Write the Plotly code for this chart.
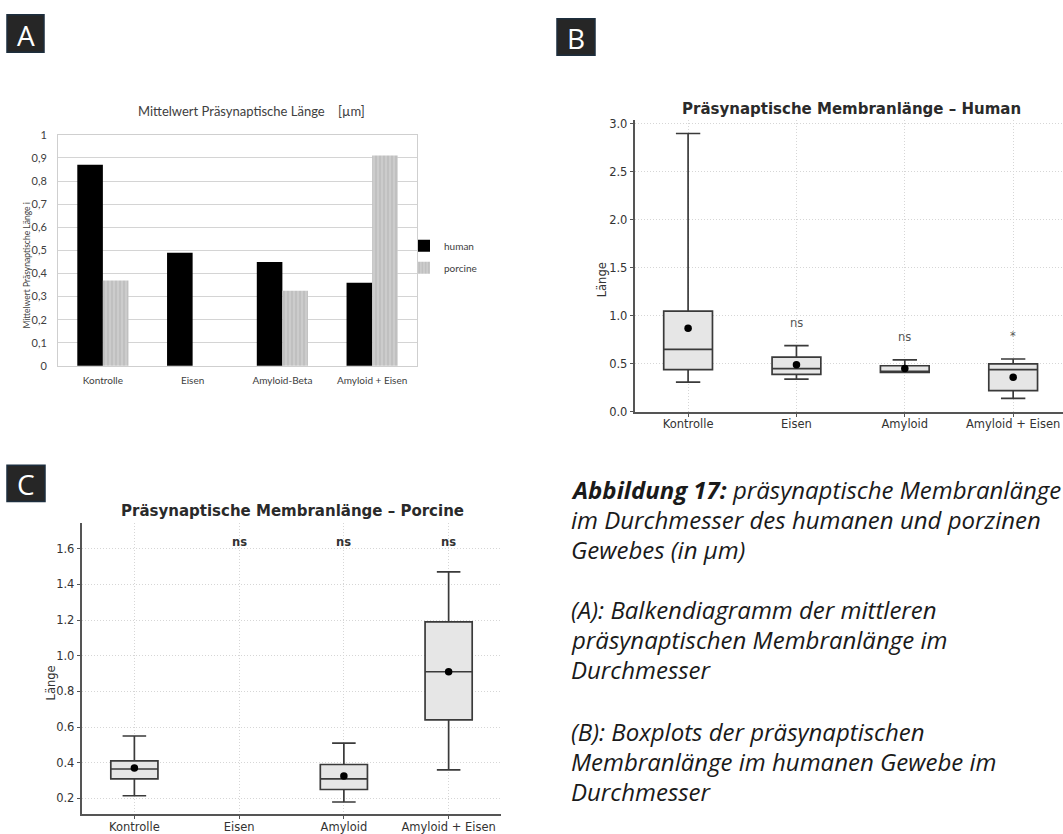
import plotly.graph_objects as go

W, H = 1063, 834


def px(x):
    return x / W


def py(y):
    return 1 - y / H


# ---------------- Panel A: mean presynaptic length (bars) ----------------
bar_categories = ["Kontrolle", "Eisen", "Amyloid-Beta", "Amyloid + Eisen"]
mean_human = [0.87, 0.49, 0.45, 0.36]
mean_porcine = [0.37, None, 0.325, 0.91]
a_tick_vals = [0, 0.1, 0.2, 0.3, 0.4, 0.5, 0.6, 0.7, 0.8, 0.9, 1]
a_tick_text = ["0", "0,1", "0,2", "0,3", "0,4", "0,5", "0,6", "0,7", "0,8", "0,9", "1"]

# ---------------- Panel B: human box plots ----------------
box_categories = ["Kontrolle", "Eisen", "Amyloid", "Amyloid + Eisen"]
human_lower = [0.31, 0.34, 0.41, 0.14]
human_q1 = [0.44, 0.39, 0.41, 0.22]
human_median = [0.65, 0.45, 0.41, 0.44]
human_q3 = [1.05, 0.57, 0.48, 0.50]
human_upper = [2.90, 0.69, 0.54, 0.55]
human_mean = [0.87, 0.49, 0.45, 0.36]
human_sig = ["", "ns", "ns", "*"]

# ---------------- Panel C: porcine box plots ----------------
porcine_lower = [0.215, None, 0.18, 0.36]
porcine_q1 = [0.31, None, 0.25, 0.64]
porcine_median = [0.365, None, 0.31, 0.91]
porcine_q3 = [0.41, None, 0.39, 1.19]
porcine_upper = [0.55, None, 0.51, 1.47]
porcine_mean = [0.37, None, 0.325, 0.91]
porcine_sig = ["", "ns", "ns", "ns"]

MPL_FONT = "DejaVu Sans"
OFFICE_FONT = "Lato"
CAPTION_FONT = "Open Sans"
BOX_LINE = "#3a3a3a"
BOX_FILL = "#e6e6e6"

fig = go.Figure()

# bars
fig.add_trace(go.Bar(
    x=bar_categories, y=mean_human, name="human",
    marker=dict(color="#000000", line=dict(width=0)),
    xaxis="x", yaxis="y", legendgroup="h",
))
fig.add_trace(go.Bar(
    x=bar_categories, y=mean_porcine, name="porcine",
    marker=dict(color="#cccccc", line=dict(width=0),
                pattern=dict(shape="|", fgcolor="#a9a9a9", size=4, solidity=0.35)),
    xaxis="x", yaxis="y", legendgroup="p",
))


def add_boxes(xa, ya, lower, q1, median, q3, upper, mean):
    keep = [i for i, m in enumerate(median) if m is not None]
    cats = [box_categories[i] for i in keep]
    fig.add_trace(go.Box(
        x=cats,
        lowerfence=[lower[i] for i in keep],
        q1=[q1[i] for i in keep],
        median=[median[i] for i in keep],
        q3=[q3[i] for i in keep],
        upperfence=[upper[i] for i in keep],
        width=0.45, whiskerwidth=0.5,
        fillcolor=BOX_FILL, line=dict(color=BOX_LINE, width=1.7),
        boxpoints=False, showlegend=False, hoverinfo="skip",
        xaxis=xa, yaxis=ya,
    ))
    fig.add_trace(go.Scatter(
        x=cats, y=[mean[i] for i in keep], mode="markers",
        marker=dict(color="#000000", size=7.5),
        showlegend=False, xaxis=xa, yaxis=ya, cliponaxis=False,
    ))


add_boxes("x2", "y2", human_lower, human_q1, human_median, human_q3, human_upper, human_mean)
add_boxes("x3", "y3", porcine_lower, porcine_q1, porcine_median, porcine_q3, porcine_upper, porcine_mean)

annotations = []
shapes = []

# significance labels
for cat, sig, up in zip(box_categories, human_sig, human_upper):
    if sig:
        annotations.append(dict(
            x=cat, y=up + 0.24, xref="x2", yref="y2", text=sig, showarrow=False,
            font=dict(family=MPL_FONT, size=11.5, color="#555555"),
            xanchor="center", yanchor="middle"))
for cat, sig in zip(box_categories, porcine_sig):
    if sig:
        annotations.append(dict(
            x=cat, y=1.64, xref="x3", yref="y3", text="<b>%s</b>" % sig, showarrow=False,
            font=dict(family=MPL_FONT, size=11.5, color="#333333"),
            xanchor="center", yanchor="middle"))

# panel letters
for letter, (x0, y0, x1, y1) in {"A": (7, 8, 44, 46), "B": (557, 12, 595, 49),
                                  "C": (7, 466, 45, 503)}.items():
    shapes.append(dict(type="rect", xref="paper", yref="paper",
                       x0=px(x0), x1=px(x1), y0=py(y1), y1=py(y0),
                       fillcolor="#262626", line=dict(color="#1d2e3e", width=1.5)))
    annotations.append(dict(x=px((x0 + x1) / 2), y=py((y0 + y1) / 2 + 1), xref="paper", yref="paper",
                            text=letter, showarrow=False,
                            font=dict(family="Open Sans", size=28, color="#ffffff"),
                            xanchor="center", yanchor="middle"))


def label(x, y, text, font, angle=0):
    return dict(x=px(x), y=py(y), xref="paper", yref="paper", showarrow=False,
                text=text, font=font, textangle=angle,
                xanchor="center", yanchor="middle")


# titles and axis labels
annotations += [
    label(251, 106, "Mittelwert Präsynaptische Länge    [µm]",
          dict(family=OFFICE_FONT, size=13, color="#404040")),
    label(27, 263, "Mittelwert Präsynaptische Länge i",
          dict(family=OFFICE_FONT, size=8.5, color="#404040"), -90),
    label(851, 104, "<b>Präsynaptische Membranlänge – Human</b>",
          dict(family=MPL_FONT, size=15, color="#2a2a2a")),
    label(602, 278, "Länge", dict(family=MPL_FONT, size=11.5, color="#333333"), -90),
    label(292, 513, "<b>Präsynaptische Membranlänge – Porcine</b>",
          dict(family=MPL_FONT, size=15, color="#2a2a2a")),
    label(51, 688, "Länge", dict(family=MPL_FONT, size=11.5, color="#333333"), -90),
]

# figure caption
caption_lines = [
    (491, "<b>Abbildung 17:</b> präsynaptische Membranlänge"),
    (521, "im Durchmesser des humanen und porzinen"),
    (551.5, "Gewebes (in µm)"),
    (613, "(A): Balkendiagramm der mittleren"),
    (643, "präsynaptischen Membranlänge im"),
    (674, "Durchmesser"),
    (737, "(B): Boxplots der präsynaptischen"),
    (767, "Membranlänge im humanen Gewebe im"),
    (798, "Durchmesser"),
]
for yy, line in caption_lines:
    annotations.append(dict(x=px(569), y=py(yy), xref="paper", yref="paper", showarrow=False,
                            text="<i>%s</i>" % line, xanchor="left", yanchor="middle",
                            font=dict(family=CAPTION_FONT, size=24, color="#1a1a1a")))

mpl_axis = dict(showline=True, linecolor="#555555", linewidth=1.5, ticks="outside",
                ticklen=3.5, tickwidth=1, tickcolor="#555555", showgrid=True,
                gridcolor="#d6d6d6", griddash="1px,2px", gridwidth=1, zeroline=False,
                tickfont=dict(family=MPL_FONT, size=11.5, color="#333333"))

fig.update_layout(
    width=W, height=H,
    margin=dict(l=0, r=0, t=0, b=0),
    paper_bgcolor="#ffffff", plot_bgcolor="#ffffff",
    barmode="group", bargap=0.43, bargroupgap=0,
    showlegend=True,
    legend=dict(x=px(404), y=py(228), xanchor="left", yanchor="top",
                font=dict(family=OFFICE_FONT, size=10, color="#404040"),
                bgcolor="rgba(0,0,0,0)", itemwidth=30, tracegroupgap=3,
                itemclick=False),
    xaxis=dict(domain=[px(58), px(417)], anchor="y", showline=True, mirror=True,
               linecolor="#cfcfcf", linewidth=1, ticks="", showgrid=False,
               ticklabelstandoff=5,
               tickfont=dict(family=OFFICE_FONT, size=10, color="#404040")),
    yaxis=dict(domain=[py(365), py(130)], anchor="x", range=[0, 1],
               tickvals=a_tick_vals, ticktext=a_tick_text, showgrid=True,
               gridcolor="#d4d4d4", gridwidth=1, zeroline=False, showline=True,
               mirror=True, linecolor="#cfcfcf", linewidth=1, ticks="",
               ticklabelstandoff=8,
               tickfont=dict(family=OFFICE_FONT, size=11, color="#404040")),
    xaxis2=dict(domain=[px(635), 1.0], anchor="y2", range=[-0.49, 3.46],
                categoryorder="array", categoryarray=box_categories,
                ticklabelstandoff=-3, **mpl_axis),
    yaxis2=dict(domain=[py(411.7), py(115)], anchor="x2", range=[0, 3.04],
                tickvals=[0, 0.5, 1, 1.5, 2, 2.5, 3], tickformat=".1f", **mpl_axis),
    xaxis3=dict(domain=[px(82), px(501)], anchor="y3", range=[-0.5, 3.5],
                categoryorder="array", categoryarray=box_categories,
                ticklabelstandoff=-2, **mpl_axis),
    yaxis3=dict(domain=[py(820.7), py(525)], anchor="x3", range=[0.113, 1.743],
                tickvals=[0.2, 0.4, 0.6, 0.8, 1.0, 1.2, 1.4, 1.6], tickformat=".1f", **mpl_axis),
    annotations=annotations,
    shapes=shapes,
)

fig.write_html("out.html")
